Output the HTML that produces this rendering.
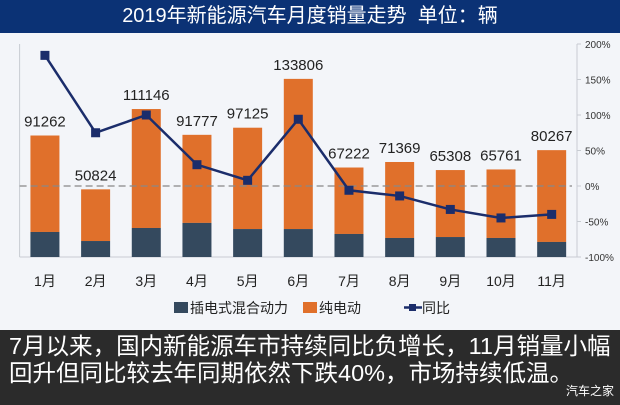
<!DOCTYPE html>
<html><head><meta charset="utf-8"><style>
body{margin:0;width:620px;height:405px;overflow:hidden;background:#f3f5f9;font-family:"Liberation Sans","Noto Sans CJK SC",sans-serif;position:relative}
#title{position:absolute;left:0;top:0;width:620px;height:33px;background:#0b3275;color:#fff;font-size:20px;line-height:33px;text-align:center}
#caption{position:absolute;left:0;top:330px;width:620px;height:75px;background:#2b2b2b;color:#fff;font-size:23.5px;line-height:27px;padding:3px 0 0 9px;box-sizing:border-box;white-space:nowrap}
#wm{position:absolute;right:6px;bottom:6px;font-size:12px;color:#fff;background:#2b2b2b}
svg{position:absolute;left:0;top:0}
</style></head><body>
<div id="title">2019年新能源汽车月度销量走势&nbsp; 单位：辆</div>
<svg id="chart" width="620" height="330"></svg>
<div id="caption">7月以来，国内新能源车市持续同比负增长，11月销量小幅<br>回升但同比较去年同期依然下跌40%，市场持续低温。</div>
<div id="wm">汽车之家</div>
<script>
const months=["1月","2月","3月","4月","5月","6月","7月","8月","9月","10月","11月"];
const totals=[91262,50824,111146,91777,97125,133806,67222,71369,65308,65761,80267];
const hybrid=[18800,12000,21800,25600,21000,21000,17300,14300,15000,14300,11300];
const yoy=[184,75,100,30,8,94,-6,-14,-33,-45,-40];
const pctTicks=[200,150,100,50,0,-50,-100];
const NS="http://www.w3.org/2000/svg";
const svg=document.getElementById('chart');
const px0=19.6,px1=577,pTop=44,pBot=257;
const bw=(px1-px0)/months.length;
const xc=i=>px0+bw*(i+0.5);
const yL=v=>pBot-(v/160000)*(pBot-pTop);
const yR=p=>pBot-((p+100)/300)*(pBot-pTop);
function mk(t,a){const e=document.createElementNS(NS,t);for(const k in a)e.setAttribute(k,a[k]);svg.appendChild(e);return e;}
let e;
e=mk('line',{x1:px0,y1:pTop,x2:px0,y2:pBot,stroke:'#c8ccd2'});


e=mk('line',{x1:px0,y1:pBot,x2:px1,y2:pBot,stroke:'#c8ccd2'});


e=mk('line',{x1:px1,y1:pTop,x2:px1,y2:pBot,stroke:'#c8ccd2'});


pctTicks.forEach(p=>{
 const t=mk('text',{x:585,y:yR(p)+4,'font-size':10,fill:'#333'});t.textContent=p+'%';
 
 
 const tk=mk('line',{x1:px1,y1:yR(p),x2:px1+4,y2:yR(p),stroke:'#c8ccd2'});
 
 
});
months.forEach((m,i)=>{
 const cx=xc(i),w=29;
 const o=mk('rect',{x:cx-w/2,y:yL(totals[i]),width:w,height:yL(hybrid[i])-yL(totals[i]),fill:'#e0702b'});
 
 
 const h=mk('rect',{x:cx-w/2,y:yL(hybrid[i]),width:w,height:pBot-yL(hybrid[i]),fill:'#34495e'});
 
 
 const l=mk('text',{x:cx,y:yL(totals[i])-9,'font-size':15,'text-anchor':'middle',fill:'#222'});l.textContent=totals[i];
 
 
 const ml=mk('text',{x:cx,y:286,'font-size':14,'text-anchor':'middle',fill:'#222'});ml.textContent=m;
 
 
});
e=mk('line',{x1:px0,y1:yR(0),x2:px1-5,y2:yR(0),stroke:'#888','stroke-dasharray':'7,4','stroke-width':1.3});


e=mk('polyline',{points:yoy.map((p,i)=>xc(i)+','+yR(p)).join(' '),fill:'none',stroke:'#1b2d6b','stroke-width':2.5});


yoy.forEach((p,i)=>{
 const r=mk('rect',{x:xc(i)-4.5,y:yR(p)-4.5,width:9,height:9,fill:'#1b2d6b'});
 
 
});
e=mk('rect',{x:174,y:302,width:14,height:11,fill:'#34495e'});


e=mk('text',{x:190,y:313,'font-size':14,fill:'#222'});e.textContent='插电式混合动力';


e=mk('rect',{x:303,y:302,width:14,height:11,fill:'#e0702b'});


e=mk('text',{x:319,y:313,'font-size':14,fill:'#222'});e.textContent='纯电动';


e=mk('line',{x1:404,y1:307.5,x2:422,y2:307.5,stroke:'#1b2d6b','stroke-width':2.5});


e=mk('rect',{x:409,y:304,width:7,height:7,fill:'#1b2d6b'});


e=mk('text',{x:422,y:313,'font-size':14,fill:'#222'});e.textContent='同比';


</script>
</body></html>
